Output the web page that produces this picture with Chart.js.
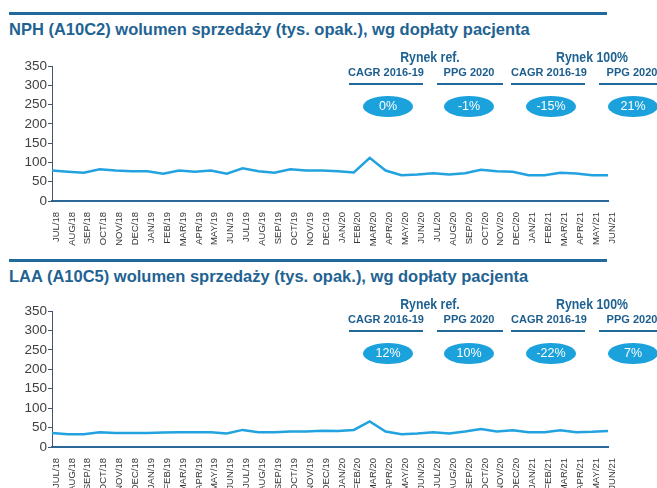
<!DOCTYPE html>
<html>
<head>
<meta charset="utf-8">
<script src="https://cdn.jsdelivr.net/npm/chart.js@4"></script>
<style>
body{margin:0;background:#fff;font-family:"Liberation Sans",Arial,sans-serif;}
#page{position:relative;width:657px;height:488px;overflow:hidden;}
.rule{position:absolute;left:9px;width:598px;height:3px;background:#1f6a9a;}
.title{position:absolute;left:9px;font-weight:bold;font-size:16.5px;color:#1f6393;white-space:nowrap;line-height:18px;}
.market{position:absolute;font-weight:bold;font-size:14px;color:#1f6393;white-space:nowrap;line-height:16px;transform:translateX(-50%) scaleX(0.88);}
.head{position:absolute;font-weight:bold;font-size:11px;color:#1d5e8e;white-space:nowrap;line-height:13px;transform:translateX(-50%);}
.uline{position:absolute;height:2px;background:#1f6a9a;}
.pill{position:absolute;width:50px;height:21px;border-radius:50%;background:#1ba1dc;color:#fff;font-size:12.5px;line-height:21px;text-align:center;}
.box{position:absolute;left:0;}
</style>
</head>
<body>
<div id="page">
  <div class="box" style="top:55px;width:657px;height:192px;"><canvas id="nphChart" width="657" height="192"></canvas></div>
  <div class="box" style="top:300px;width:657px;height:188px;"><canvas id="laaChart" width="657" height="188"></canvas></div>
</div>
<script>
var months = ['JUL/18','AUG/18','SEP/18','OCT/18','NOV/18','DEC/18','JAN/19','FEB/19','MAR/19','APR/19','MAY/19','JUN/19',
  'JUL/19','AUG/19','SEP/19','OCT/19','NOV/19','DEC/19','JAN/20','FEB/20','MAR/20','APR/20','MAY/20','JUN/20',
  'JUL/20','AUG/20','SEP/20','OCT/20','NOV/20','DEC/20','JAN/21','FEB/21','MAR/21','APR/21','MAY/21','JUN/21']

var nphValues = [79,76,73,82,79,77,77,71,79,76,79,71,85,77,73,82,79,79,77,74,112,79,67,69,72,69,72,81,77,76,67,67,73,71,67,67]
var laaValues = [36,33,33,38,36,36,36,37,38,38,38,35,44,38,38,40,40,42,41,44,66,40,33,35,38,35,40,46,40,43,38,38,43,38,39,41]

var yTicks = [0,50,100,150,200,250,300,350]

var nphTitle = 'NPH (A10C2) wolumen sprzedaży (tys. opak.), wg dopłaty pacjenta'
var laaTitle = 'LAA (A10C5) wolumen sprzedaży (tys. opak.), wg dopłaty pacjenta'
var marketLabels = ['Rynek ref.','Rynek 100%']
var kpiHeaders = ['CAGR 2016-19','PPG 2020','CAGR 2016-19','PPG 2020']
var nphKpi = ['0%','-1%','-15%','21%']
var laaKpi = ['12%','10%','-22%','7%']

var page = document.getElementById('page')

function addDiv(cls, text, style){
  var d = document.createElement('div')
  d.className = cls
  if(text) d.textContent = text
  d.style.cssText = style
  page.appendChild(d)
}

// header block above each chart
function drawHeader(top, title, kpi){
  addDiv('rule','', 'top:'+(top+12)+'px;')
  addDiv('title', title, 'top:'+(top+20)+'px;')
  var marketX = [430,592]
  for(let i=0;i<marketLabels.length;i++){
    addDiv('market', marketLabels[i], 'left:'+marketX[i]+'px;top:'+(top+49)+'px;')
  }
  var headX = [386,469,549,632]
  var lineX = [[349,423],[437,503],[511,585],[599,660]]
  var pillX = [388,469,551,633]
  for(let i=0;i<kpiHeaders.length;i++){
    addDiv('head', kpiHeaders[i], 'left:'+headX[i]+'px;top:'+(top+66)+'px;')
    addDiv('uline','', 'left:'+lineX[i][0]+'px;width:'+(lineX[i][1]-lineX[i][0])+'px;top:'+(top+83)+'px;')
    addDiv('pill', kpi[i], 'left:'+(pillX[i]-25)+'px;top:'+(top+96)+'px;')
  }
}

drawHeader(0, nphTitle, nphKpi)
drawHeader(247, laaTitle, laaKpi)

function makeChart(id, values, padTop, xHeight){
  var ctx = document.getElementById(id).getContext('2d')
  return new Chart(ctx, {
    type: 'line',
    data: {
      labels: months,
      datasets: [{
        data: values,
        borderColor: '#22a2de',
        borderWidth: 2.5,
        pointRadius: 0,
        tension: 0,
        fill: false
      }]
    },
    options: {
      responsive: false,
      animation: false,
      devicePixelRatio: 1,
      layout: { padding: { top: padTop, right: 49, left: 0, bottom: 0 } },
      plugins: { legend: { display: false }, tooltip: { enabled: false } },
      scales: {
        x: {
          afterFit: function(scale){ scale.height = xHeight },
          grid: { display: false },
          border: { display: true, color: '#2b6797', width: 2 },
          ticks: {
            autoSkip: false, maxRotation: 90, minRotation: 90,
            padding: 3, labelOffset: 4,
            color: '#383838',
            font: { family: 'Liberation Sans', size: 9.5 }
          }
        },
        y: {
          min: 0, max: 350,
          afterFit: function(scale){ scale.width = 52 },
          afterBuildTicks: function(scale){ scale.ticks = yTicks.map(v => ({ value: v })) },
          grid: { display: true, drawOnChartArea: false, tickLength: 4, color: '#44546a' },
          border: { display: true, color: '#44546a', width: 1 },
          ticks: {
            padding: 1,
            color: '#404040',
            font: { family: 'Liberation Sans', size: 13.5 }
          }
        }
      }
    }
  })
}

makeChart('nphChart', nphValues, 11, 46)
makeChart('laaChart', laaValues, 11, 41)
</script>
</body>
</html>
